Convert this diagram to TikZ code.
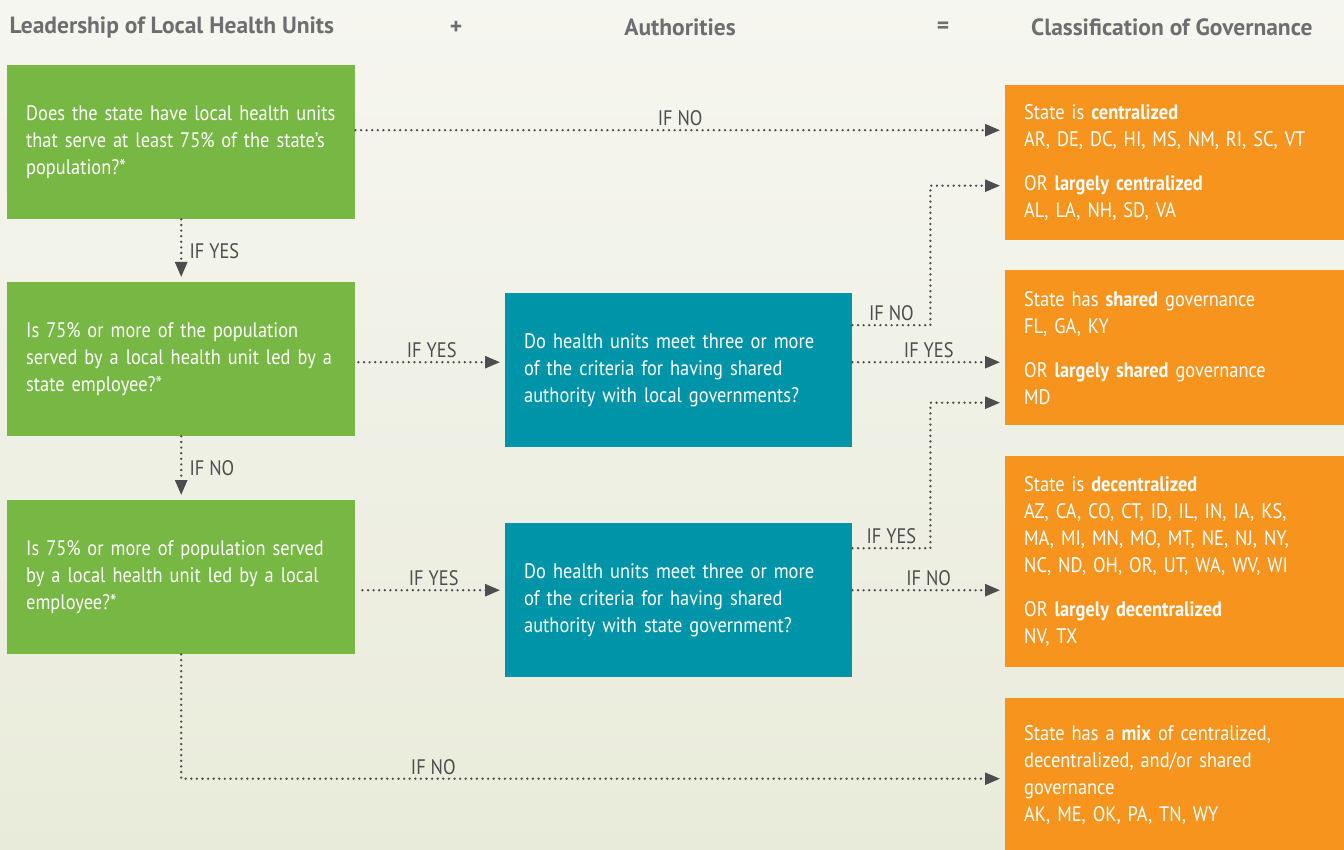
\documentclass[tikz,border=0pt]{standalone}
\usepackage{fontspec}
\setmainfont{PT Sans}[FakeStretch=0.875]
\newfontfamily\headfont{PT Sans}[FakeStretch=1.0]
\usetikzlibrary{arrows.meta}
\definecolor{leafgreen}{HTML}{76B843}
\definecolor{tealbox}{HTML}{0094A8}
\definecolor{orangebox}{HTML}{F7941E}
\definecolor{bgtop}{HTML}{F6F6F0}
\definecolor{bgbottom}{HTML}{E9EBDA}
\definecolor{headgrey}{HTML}{6D6E70}
\definecolor{linegrey}{HTML}{4D4D4F}
\tikzset{
  box/.style={anchor=north west, text=white, align=left, inner xsep=19pt,
    font=\fontsize{21}{27}\selectfont},
  question/.style={box, fill=leafgreen, text width=310pt, minimum height=154pt},
  criteria/.style={box, fill=tealbox, text width=309pt, minimum height=154pt},
  result/.style={box, fill=orangebox, text width=301pt},
  head/.style={text=headgrey, font=\headfont\fontsize{23.5}{27}\bfseries\selectfont},
  flow/.style={linegrey, line width=2.6pt, line cap=round,
    dash pattern=on 0pt off 5.6pt, shorten >=5pt,
    -{Triangle[length=15pt,width=12pt]}},
  lbl/.style={text=linegrey, font=\fontsize{21}{24}\selectfont, inner sep=3pt}
}
\begin{document}
\begin{tikzpicture}[x=1pt,y=-1pt]
  % Background
  \fill[top color=bgtop, bottom color=bgbottom] (0,0) rectangle (1344,850);
  \useasboundingbox (0,0) rectangle (1344,850);
  % Column heads
  \node[head, anchor=west] (hlead) at (6,27) {Leadership of Local Health Units};
  \node[head] (hplus) at (456,28) {+};
  \node[head] (hauth) at (680,27) {Authorities};
  \node[head] (heq) at (943,28) {=};
  \node[head, anchor=east] (hclass) at (1316,27) {Classification of Governance};
  % Leadership questions
  \node[question] (q1) at (7,65) {Does the state have local health units\\that serve at least 75\% of the state’s\\population?*};
  \node[question] (q2) at (7,282) {Is 75\% or more of the population\\served by a local health unit led by a\\state employee?*};
  \node[question] (q3) at (7,500) {Is 75\% or more of population served\\by a local health unit led by a local\\employee?*};
  % Authority questions
  \node[criteria] (c1) at (505,293) {Do health units meet three or more\\of the criteria for having shared\\authority with local governments?};
  \node[criteria] (c2) at (505,523) {Do health units meet three or more\\of the criteria for having shared\\authority with state government?};
  % Classifications
  \node[result, minimum height=155pt] (r1) at (1005,85) {State is \textbf{centralized}\\AR, DE, DC, HI, MS, NM, RI, SC, VT\\[17pt]OR \textbf{largely centralized}\\AL, LA, NH, SD, VA};
  \node[result, minimum height=155pt] (r2) at (1005,270) {State has \textbf{shared} governance\\FL, GA, KY\\[17pt]OR \textbf{largely shared} governance\\MD};
  \node[result, minimum height=211pt] (r3) at (1005,456) {State is \textbf{decentralized}\\AZ, CA, CO, CT, ID, IL, IN, IA, KS,\\MA, MI, MN, MO, MT, NE, NJ, NY,\\NC, ND, OH, OR, UT, WA, WV, WI\\[17pt]OR \textbf{largely decentralized}\\NV, TX};
  \node[result, minimum height=153pt] (r4) at (1005,698) {State has a \textbf{mix} of centralized,\\decentralized, and/or shared\\governance\\AK, ME, OK, PA, TN, WY};
  % Connectors
  \draw[flow] ([yshift=12pt]q1.east) -- ([yshift=12pt]q1.east -| r1.west)
    node[lbl, midway, above] {IF NO};
  \draw[flow] (q1.south) -- (q2.north) node[lbl, midway, right, xshift=4pt] {IF YES};
  \draw[flow] ([yshift=-3pt,xshift=3pt]q2.east) -- ([yshift=-3pt]q2.east -| c1.west)
    node[lbl, midway, above] {IF YES};
  \draw[flow] (q2.south) -- (q3.north) node[lbl, midway, right, xshift=4pt] {IF NO};
  \draw[flow] ([yshift=-13pt,xshift=7pt]q3.east) -- ([yshift=-13pt]q3.east -| c2.west)
    node[lbl, midway, above] {IF YES};
  \draw[flow] (q3.south) |- ([yshift=-4pt]r4.west)
    node[lbl, pos=0.653, above] {IF NO};
  \draw[flow] ([yshift=45pt]c1.east) -- ++(78,0) node[lbl, midway, above] {IF NO}
    |- ([yshift=-23pt]r1.west);
  \draw[flow] ([yshift=8pt]c1.east) -- ([yshift=8pt]c1.east -| r2.west)
    node[lbl, midway, above] {IF YES};
  \draw[flow] ([yshift=52pt]c2.east) -- ++(78,0) node[lbl, midway, above] {IF YES}
    |- ([yshift=-55pt]r2.west);
  \draw[flow] ([yshift=10pt]c2.east) -- ([yshift=10pt]c2.east -| r3.west)
    node[lbl, midway, above] {IF NO};
\end{tikzpicture}
\end{document}
